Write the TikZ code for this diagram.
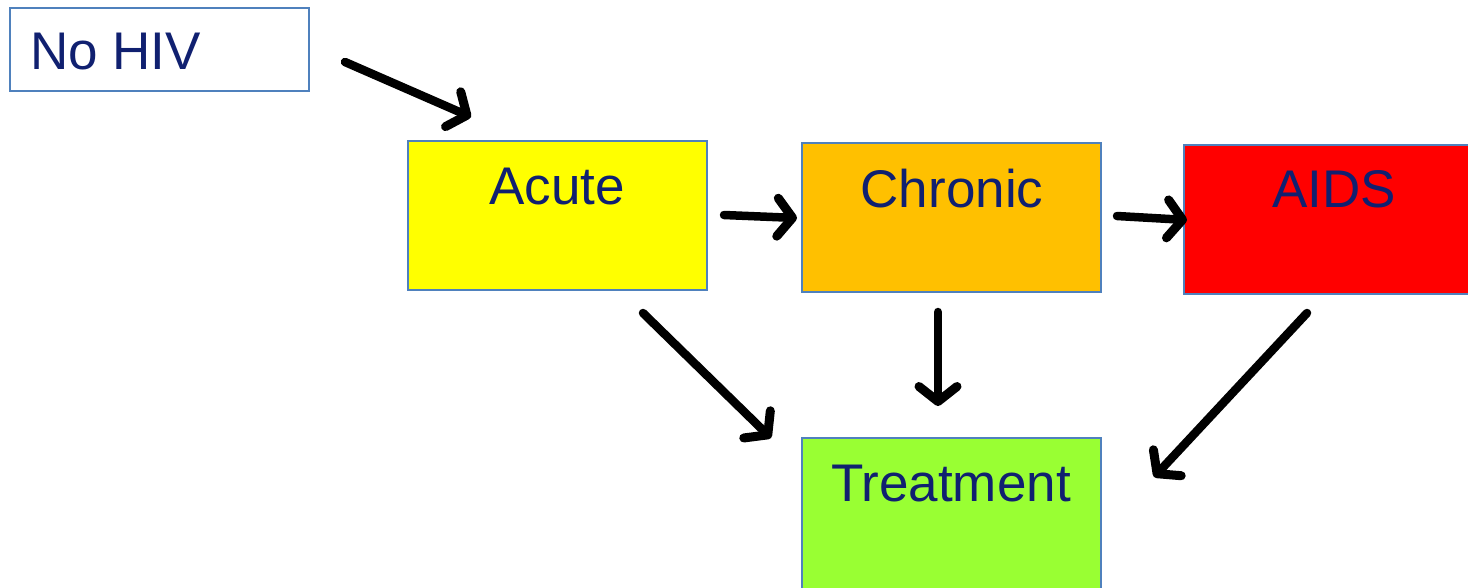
\documentclass[tikz,border=0pt]{standalone}
\usepackage{fontspec}
\setmainfont{Liberation Sans}
\usetikzlibrary{arrows.meta}
\definecolor{txtblue}{RGB}{16,32,112}
\definecolor{edgeblue}{RGB}{79,129,189}
\definecolor{cyellow}{RGB}{255,255,0}
\definecolor{corange}{RGB}{255,192,0}
\definecolor{cred}{RGB}{255,0,0}
\definecolor{cgreen}{RGB}{153,255,51}
\tikzset{
  box/.style={draw=edgeblue, line width=1.5pt, rectangle, inner sep=0pt},
  lbl/.style={anchor=base, text=txtblue, inner sep=0pt, font=\fontsize{53}{60}\selectfont},
  arr/.style={line width=8.5pt, line cap=round, -{Straight Barb[length=15pt, width=38pt, round, line width=9pt]}},
}
\begin{document}
\begin{tikzpicture}[x=1pt, y=-1pt]
\useasboundingbox (0,0) rectangle (1468,587);
\clip (0,0) rectangle (1468,587);
% boxes
\node[box, fill=white, minimum width=299pt, minimum height=83pt] (nohiv) at (159.5,49.5) {};
\node[box, fill=cyellow, minimum width=299pt, minimum height=149pt] (acute) at (557.5,215.5) {};
\node[box, fill=corange, minimum width=299pt, minimum height=149pt] (chronic) at (951.5,217.5) {};
\node[box, fill=cred, minimum width=300pt, minimum height=149pt] (aids) at (1334,219.5) {};
\node[box, fill=cgreen, minimum width=299pt, minimum height=160pt] (treat) at (951.5,518) {};
% labels
\node[lbl, anchor=base west] (tnohiv) at (30,69) {No HIV};
\node[lbl] (tacute) at (557,204) {Acute};
\node[lbl] (tchronic) at (952,207) {Chronic};
\node[lbl] (taids) at (1334,207) {AIDS};
\node[lbl] (ttreat) at (951,501) {Treatment};
% arrow end points
\coordinate (a1s) at (345,62);
\coordinate (a1e) at (471,117);
\coordinate (a2s) at (724,215);
\coordinate (a2e) at (797,218);
\coordinate (a3s) at (1117,216);
\coordinate (a3e) at (1187,220);
\coordinate (a4s) at (643,313);
\coordinate (a4e) at (771,438);
\coordinate (a5s) at (938,312);
\coordinate (a5e) at (938,406);
\coordinate (a6s) at (1307,313);
\coordinate (a6e) at (1154,477);
% arrows
\draw[arr] (a1s) -- (a1e);
\draw[arr] (a2s) -- (a2e);
\draw[arr] (a3s) -- (a3e);
\draw[arr] (a4s) -- (a4e);
\draw[arr] (a5s) -- (a5e);
\draw[arr] (a6s) -- (a6e);
\end{tikzpicture}
\end{document}
